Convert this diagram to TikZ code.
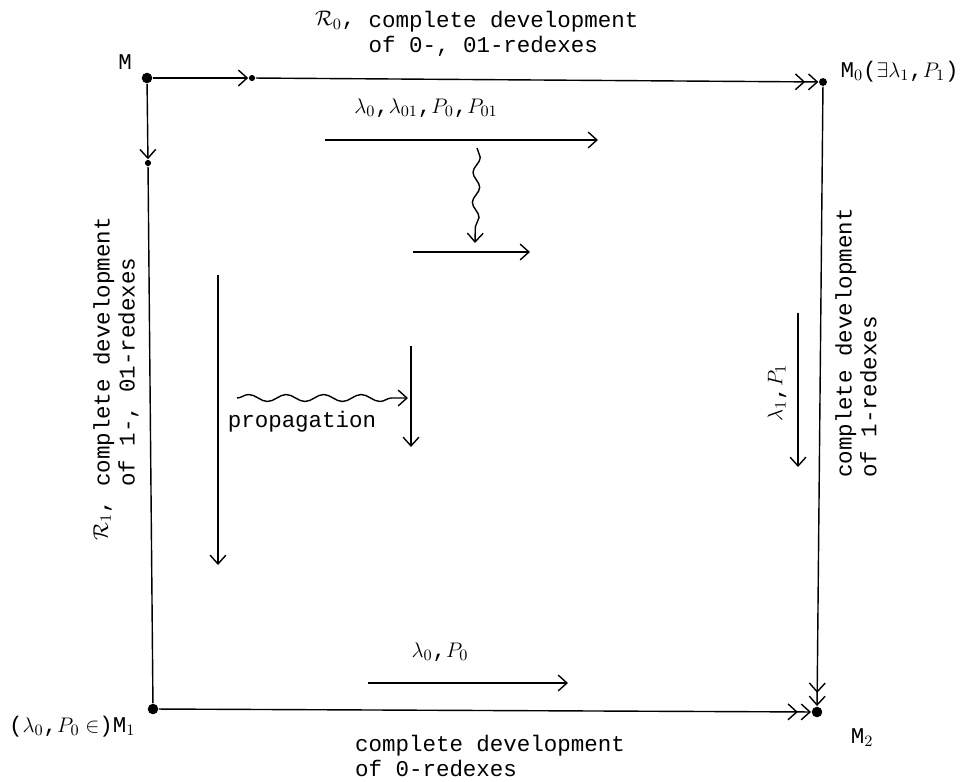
\documentclass[tikz,border=0pt]{standalone}
\usepackage{fontspec}
\setmainfont{Liberation Mono}
\usetikzlibrary{arrows.meta, decorations.pathmorphing}

\begin{document}
\begin{tikzpicture}[x=0.02cm, y=-0.02cm, line width=0.8pt,
   font=\fontsize{12.8}{14.2}\selectfont,
   >={Straight Barb[length=5pt, width=9pt]},
   pt/.style={circle, fill, inner sep=0pt, minimum size=6pt},
   sm/.style={circle, fill, inner sep=0pt, minimum size=3.5pt},
   dbl/.style={-{Straight Barb[length=5pt, width=9pt, sep=1.5pt]Straight Barb[length=5pt, width=9pt]}},
   wavy/.style={->, decorate, decoration={snake, amplitude=0.07cm, segment length=#1, post length=5pt}},
   wavy/.default=0.75cm]
  \useasboundingbox (0,0) rectangle (980,781);
  % corners of the square
  \node[pt] (M)  at (147,78)  {};
  \node[sm] (Ma) at (252,78)  {};
  \node[pt, minimum size=4.5pt] (M0) at (823,82) {};
  \node[sm] (Mb) at (148,163) {};
  \node[pt] (M1) at (153,709) {};
  \node[pt] (M2) at (817,712) {};
  \node (lM)  at (125,62) {M};
  \node[anchor=west] (lM0) at (834,72) {M$_0$($\exists\lambda_1$,$P_1$)};
  \node[anchor=east] (lM1) at (142,727) {($\lambda_0$,$P_0\in$)M$_1$};
  \node (lM2) at (862,738) {M$_2$};
  % edges
  \draw[->] (M) -- (Ma);
  \draw[dbl] (Ma) -- (M0);
  \draw[->] (M) -- (Mb);
  \draw (Mb) -- (M1);
  \draw[dbl] (M0) -- (M2);
  \draw[dbl] (M1) -- (M2);
  % edge texts
  \node[align=left, anchor=north west] (tR) at (362,5) {complete development\\of 0-, 01-redexes};
  \node[anchor=north east] at (tR.north west) {$\mathcal{R}_0$,};
  \node[rotate=90, align=left] (lR) at (116,352) {complete development\\of 1-, 01-redexes};
  \node[rotate=90, anchor=north east] at (lR.north west) {$\mathcal{R}_1$,};
  \node[rotate=90, align=left] (rR) at (856,343) {complete development\\of 1-redexes};
  \node[align=left] (bR) at (490,756) {complete development\\of 0-redexes};
  % inner arrows
  \coordinate (a1) at (325,140); \coordinate (a2) at (598,140);
  \coordinate (w1) at (477,148); \coordinate (w2) at (475,243);
  \coordinate (b1) at (413,252); \coordinate (b2) at (530,252);
  \coordinate (c1) at (218,275); \coordinate (c2) at (218,565);
  \coordinate (d1) at (411,346); \coordinate (d2) at (411,447);
  \coordinate (w3) at (237,398); \coordinate (w4) at (408,398);
  \coordinate (e1) at (798,313); \coordinate (e2) at (798,467);
  \coordinate (f1) at (368,683); \coordinate (f2) at (568,683);
  \node (l01) at (426,108) {$\lambda_0$,$\lambda_{01}$,$P_0$,$P_{01}$};
  \node (l0)  at (440,652) {$\lambda_0$,$P_0$};
  \node[rotate=90] (l1) at (777,393) {$\lambda_1$,$P_1$};
  \node (prop) at (302,422) {propagation};
  \draw[->] (a1) -- (a2);
  \draw[wavy=0.6cm] (w1) -- (w2);
  \draw[->] (b1) -- (b2);
  \draw[->] (c1) -- (c2);
  \draw[->] (d1) -- (d2);
  \draw[wavy] (w3) -- (w4);
  \draw[->] (e1) -- (e2);
  \draw[->] (f1) -- (f2);
\end{tikzpicture}
\end{document}
